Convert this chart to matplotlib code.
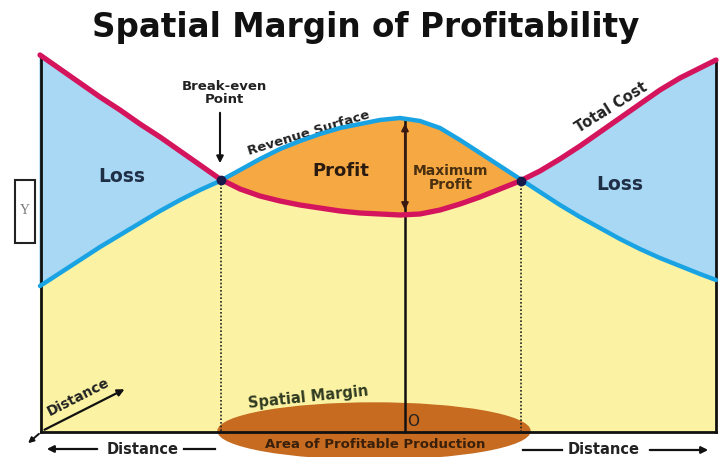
import matplotlib.pyplot as plt
import numpy as np
from matplotlib.patches import Ellipse, Rectangle

# kurvepunkter lest av bildet (piksel-koordinater, y nedover)
xs = [40, 60, 80, 100, 120, 140, 160, 180, 200, 220, 240, 260, 280, 300, 320, 340, 360, 380,
      400, 420, 440, 460, 480, 500, 520, 540, 560, 580, 600, 620, 640, 660, 680, 700, 716]
cost = [55, 69, 83, 97, 110, 124, 137, 151, 165, 179, 189, 196, 201, 205, 208, 211, 213, 214,
        215, 214, 210, 204, 197, 189, 181, 171, 159, 146, 132, 118, 104, 90, 78, 68, 60]
revenue = [286, 273, 260, 247, 235, 223, 211, 200, 190, 181, 170, 159, 149, 141, 134, 128, 124, 120,
           118, 121, 128, 140, 153, 166, 179, 192, 205, 217, 228, 239, 249, 258, 266, 274, 280]
base = 432
break_even = [221, 521]
peak_x = 405

xs = np.array(xs)
cost = np.array(cost)
revenue = np.array(revenue)

fig = plt.figure(figsize=(7.25, 4.57), dpi=100)
ax = fig.add_axes([0, 0, 1, 1])
ax.set_xlim(0, 725)
ax.set_ylim(457, 0)
ax.axis('off')
plt.rcParams['font.family'] = ['DejaVu Sans']

# flater
lower = np.maximum(cost, revenue)
ax.fill_between(xs, lower, base, color='#fbf3a3', zorder=1)
ax.fill_between(xs, revenue, cost, where=revenue <= cost, interpolate=True, color='#f6a843', zorder=1)
ax.fill_between(xs, cost, revenue, where=cost <= revenue, interpolate=True, color='#a9d8f5', zorder=1)

# rammen
ax.plot([41, 41], [cost[0], base], color='#111111', lw=2, zorder=3)
ax.plot([716, 716], [cost[-1], base], color='#111111', lw=2, zorder=3)
ax.plot([41, 716], [base, base], color='#111111', lw=2, zorder=3)

# kurvene
ax.plot(xs, revenue, color='#1aa3e3', lw=3.2, zorder=4, solid_capstyle='round')
ax.plot(xs, cost, color='#d4145c', lw=3.8, zorder=5, solid_capstyle='round')

# break-even punkter og stiplede linjer
for bx in break_even:
    by = np.interp(bx, xs, cost)
    ax.plot([bx, bx], [by, base], color='#222222', lw=1.2, ls=(0, (1, 1.2)), zorder=3)
    ax.plot(bx, by, 'o', color='#1a1a4a', ms=6, zorder=6)

# ellipse for profitabelt område
ax.add_patch(Ellipse((374, 431), 312, 56, color='#c66b20', zorder=2))

# maks profitt
rev_peak = np.interp(peak_x, xs, revenue)
cost_peak = np.interp(peak_x, xs, cost)
ax.plot([peak_x, peak_x], [rev_peak, base], color='#111111', lw=1.8, zorder=3)
ax.annotate('', xy=(peak_x, rev_peak + 2), xytext=(peak_x, cost_peak - 2),
            arrowprops=dict(arrowstyle='<|-|>', color='#3a1a10', lw=1.5, mutation_scale=10), zorder=7)

# tekster
ax.text(366, 27, 'Spatial Margin of Profitability', ha='center', va='center',
        fontsize=23.5, fontweight='bold', color='#111111')
ax.text(122, 176, 'Loss', ha='center', va='center', fontsize=13.5, fontweight='bold', color='#1f2f45')
ax.text(620, 184, 'Loss', ha='center', va='center', fontsize=13.5, fontweight='bold', color='#1f2f45')
ax.text(341, 171, 'Profit', ha='center', va='center', fontsize=13, fontweight='bold', color='#2a1a10')
ax.text(451, 178, 'Maximum\nProfit', ha='center', va='center', fontsize=10, fontweight='bold',
        color='#4a3010', linespacing=1.0)
ax.text(224, 93, 'Break-even\nPoint', ha='center', va='center', fontsize=9.5, fontweight='bold',
        color='#222222', linespacing=1.0)
ax.annotate('', xy=(220, 166), xytext=(220, 110),
            arrowprops=dict(arrowstyle='-|>', color='#111111', lw=1.5, mutation_scale=10))
ax.text(309, 133, 'Revenue Surface', ha='center', va='center', fontsize=9.5, fontweight='bold',
        color='#222222', rotation=17)
ax.text(611, 107, 'Total Cost', ha='center', va='center', fontsize=10.5, fontweight='bold',
        color='#222222', rotation=32)
ax.text(308, 397, 'Spatial Margin', ha='center', va='center', fontsize=10.5, fontweight='bold',
        color='#2f3a20', rotation=6)
ax.text(375, 445, 'Area of Profitable Production', ha='center', va='center', fontsize=9.5,
        fontweight='bold', color='#3a200a')
ax.text(413, 422, 'O', ha='center', va='center', fontsize=11, color='#222222')

# Y-boks
ax.add_patch(Rectangle((15, 180), 20, 63, fill=False, edgecolor='#222222', lw=1.5))
ax.text(25, 211, 'Y', ha='center', va='center', fontsize=10, family='Liberation Serif', color='#777777')

# avstandspiler
ax.annotate('', xy=(127, 388), xytext=(42, 431),
            arrowprops=dict(arrowstyle='-|>', color='#111111', lw=1.6, mutation_scale=10))
ax.annotate('', xy=(26, 445), xytext=(41, 432),
            arrowprops=dict(arrowstyle='-|>', color='#111111', lw=1.4, mutation_scale=8))
ax.text(78, 397, 'Distance', ha='center', va='center', fontsize=10, fontweight='bold',
        color='#222222', rotation=27)
ax.annotate('', xy=(44, 449), xytext=(100, 449),
            arrowprops=dict(arrowstyle='-|>', color='#111111', lw=1.6, mutation_scale=10))
ax.text(143, 449, 'Distance', ha='center', va='center', fontsize=10.5, fontweight='bold', color='#222222')
ax.plot([184, 215], [449, 449], color='#111111', lw=1.6)
ax.plot([523, 562], [450, 450], color='#111111', lw=1.6)
ax.text(604, 450, 'Distance', ha='center', va='center', fontsize=10.5, fontweight='bold', color='#222222')
ax.annotate('', xy=(711, 450), xytext=(647, 450),
            arrowprops=dict(arrowstyle='-|>', color='#111111', lw=1.6, mutation_scale=10))

fig.savefig('out.png', dpi=100)
